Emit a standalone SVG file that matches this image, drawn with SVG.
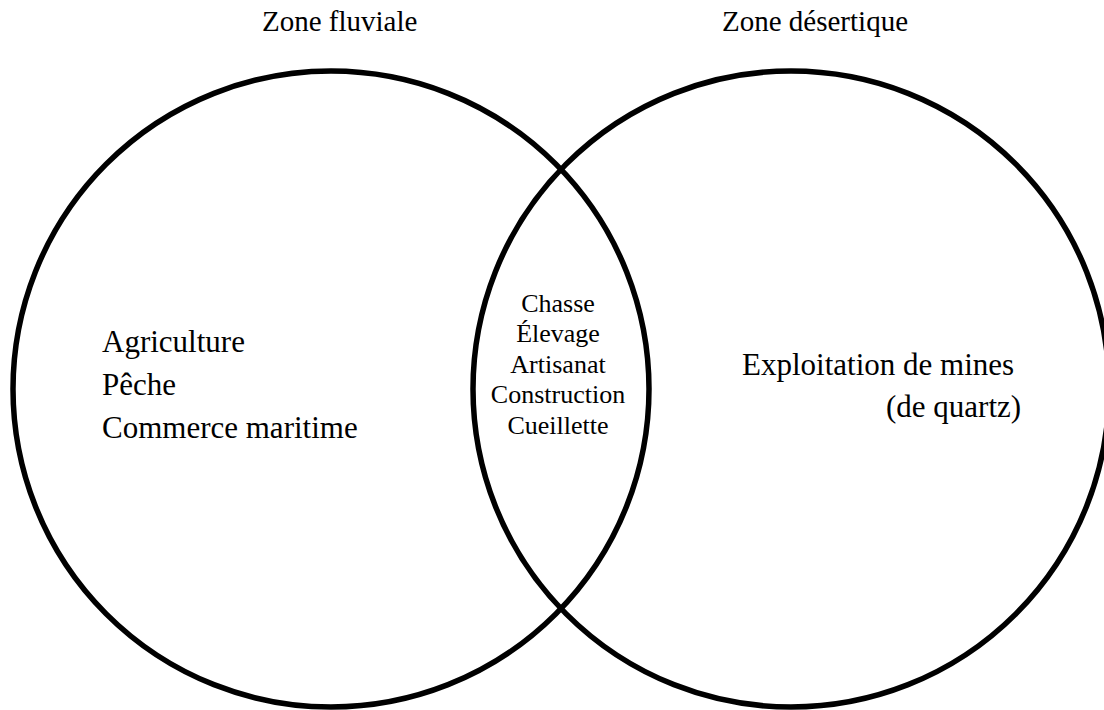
<svg xmlns="http://www.w3.org/2000/svg" width="1104" height="710" viewBox="0 0 1104 710">
<style>
.c{fill:none;stroke:#000;stroke-width:5.5}
.t{font-family:"Liberation Serif","Times New Roman",serif;fill:#000}
.z{font-size:29px}
.b{font-size:31px}
.m{font-size:26px;text-anchor:middle}
</style>
<rect width="1104" height="710" fill="#fff"/>
<g id="zone-fluviale">
<circle class="c" cx="331" cy="389" r="318"/>
<text class="t z" x="262" y="31">Zone fluviale</text>
<text class="t b" x="102" y="352">Agriculture</text>
<text class="t b" x="102" y="395">Pêche</text>
<text class="t b" x="102" y="438">Commerce maritime</text>
</g>
<g id="zone-desertique">
<circle class="c" cx="791" cy="389" r="318"/>
<text class="t z" x="722" y="31">Zone désertique</text>
<text class="t b" x="742" y="375">Exploitation de mines</text>
<text class="t b" x="886" y="417">(de quartz)</text>
</g>
<g id="intersection">
<text class="t m" x="558" y="312">Chasse</text>
<text class="t m" x="558" y="342">Élevage</text>
<text class="t m" x="558" y="373">Artisanat</text>
<text class="t m" x="558" y="403">Construction</text>
<text class="t m" x="558" y="434">Cueillette</text>
</g>
<g id="connectors"></g>
</svg>
